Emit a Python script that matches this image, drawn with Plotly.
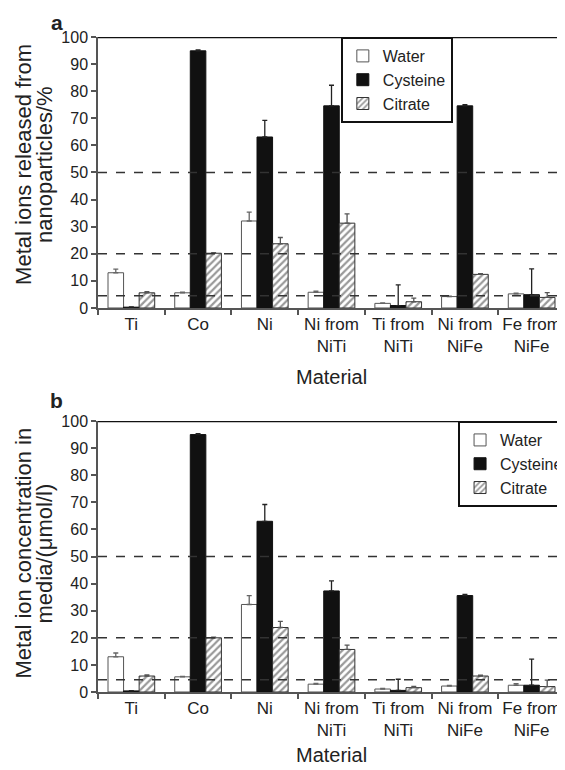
import plotly.graph_objects as go

categories = ["Ti", "Co", "Ni", "Ni from<br>NiTi", "Ti from<br>NiTi", "Ni from<br>NiFe", "Fe from<br>NiFe"]
series_names = ["Water", "Cysteine", "Citrate"]

# Panel a: metal ions released from nanoparticles (%)
a_water = [13.0, 5.6, 32.1, 5.8, 1.7, 4.2, 5.2]
a_water_err = [1.3, 0.2, 3.3, 0.4, 0.2, 0.2, 0.3]
a_cys = [0.3, 94.9, 63.1, 74.6, 0.9, 74.6, 4.9]
a_cys_err = [0.1, 0.3, 6.1, 7.6, 7.6, 0.4, 9.5]
a_cit = [5.6, 20.2, 23.7, 31.3, 2.3, 12.4, 3.9]
a_cit_err = [0.4, 0.2, 2.3, 3.4, 1.3, 0.3, 1.8]

# Panel b: metal ion concentration in media (umol/l)
b_water = [13.0, 5.6, 32.3, 2.9, 1.1, 2.2, 2.5]
b_water_err = [1.4, 0.2, 3.3, 0.3, 0.2, 0.2, 0.6]
b_cys = [0.4, 95.0, 63.0, 37.3, 0.6, 35.6, 2.5]
b_cys_err = [0.1, 0.3, 6.2, 3.7, 4.1, 0.4, 9.6]
b_cit = [5.9, 20.0, 23.8, 15.7, 1.6, 5.9, 2.0]
b_cit_err = [0.4, 0.2, 2.3, 1.6, 0.5, 0.3, 2.4]

ref_lines = [50, 20, 4.5]
y_ticks = list(range(0, 101, 10))

FONT = "Liberation Sans, Arial, sans-serif"

fig = go.Figure()

def add_panel(xa, ya, water, werr, cys, cerr, cit, iterr, legend):
    styles = [
        dict(color="white", line=dict(color="#555555", width=1)),
        dict(color="#111111", line=dict(color="#111111", width=1)),
        dict(color="white", line=dict(color="#333333", width=1),
             pattern=dict(shape="/", fgcolor="#333333", bgcolor="white", size=5, solidity=0.45)),
    ]
    errc = ["#666666", "#222222", "#555555"]
    for name, vals, errs, st, ec in zip(series_names, [water, cys, cit], [werr, cerr, iterr], styles, errc):
        fig.add_trace(go.Bar(
            x=categories, y=vals, name=name, marker=st,
            xaxis=xa, yaxis=ya, legend=legend, showlegend=True,
            error_y=dict(type="data", array=errs, arrayminus=[0] * len(errs), symmetric=False,
                         color=ec, thickness=1.3, width=2.5),
        ))

add_panel("x", "y", a_water, a_water_err, a_cys, a_cys_err, a_cit, a_cit_err, "legend")
add_panel("x2", "y2", b_water, b_water_err, b_cys, b_cys_err, b_cit, b_cit_err, "legend2")

top_dom = [0.5863, 1.0]
bot_dom = [0.0, 0.4137]

xcommon = dict(showline=True, linecolor="#555555", linewidth=1.5, ticks="outside", ticklen=5,
               tickcolor="#555555", tickwidth=1.5, tickson="boundaries", tickangle=0,
               automargin=False,
               tickfont=dict(size=17, color="#222222", family=FONT), showgrid=False)
ycommon = dict(range=[0, 100], tickvals=y_ticks, showline=True, linecolor="#555555", linewidth=1.5,
               ticks="outside", ticklen=5, tickcolor="#555555", tickwidth=1.5, automargin=False,
               tickfont=dict(size=16, color="#222222", family=FONT), showgrid=False, zeroline=False)

legend_common = dict(xanchor="left", yanchor="top", bgcolor="white",
                     bordercolor="#111111", borderwidth=2,
                     font=dict(size=16, family=FONT, color="#222222"),
                     tracegroupgap=0, itemwidth=30)

fig.update_layout(
    width=565, height=770,
    margin=dict(l=90, r=8, t=29, b=86, autoexpand=False),
    plot_bgcolor="white", paper_bgcolor="white",
    barmode="group", bargap=0.3, bargroupgap=0.0,
    font=dict(family=FONT, color="#222222"),
    xaxis=dict(domain=[0, 1], anchor="y", **xcommon),
    yaxis=dict(domain=top_dom, anchor="x", **ycommon),
    xaxis2=dict(domain=[0, 1], anchor="y2", **xcommon),
    yaxis2=dict(domain=bot_dom, anchor="x2", **ycommon),
    legend=dict(x=0.52, y=1.0, **legend_common),
    legend2=dict(x=0.771, y=0.4137, **legend_common),
)

shapes = []
for xr, yr in [("x domain", "y"), ("x2 domain", "y2")]:
    for v in ref_lines:
        shapes.append(dict(type="line", xref=xr, yref=yr, x0=0, x1=1, y0=v, y1=v,
                           line=dict(color="#333333", width=1.5, dash="dash"), layer="above"))
    shapes.append(dict(type="line", xref=xr, yref=yr, x0=0, x1=1, y0=100, y1=100,
                       line=dict(color="#111111", width=2.5), layer="above"))
fig.update_layout(shapes=shapes)

def txt(text, x, y, size, angle=0, yanchor="middle"):
    return dict(text=text, x=x, y=y, xref="paper", yref="paper", showarrow=False,
                xanchor="center", yanchor=yanchor, textangle=angle,
                font=dict(size=size, color="#222222", family=FONT))

top_c = 0.5863 + (1.0 - 0.5863) / 2 + 0.012
bot_c = 0.4137 / 2 + 0.005
ann = [
    txt("<b>a</b>", -0.088, 1.0435, 21, yanchor="top"),
    txt("<b>b</b>", -0.088, 0.4458, 21),
    txt("Metal ions released from", -0.160, top_c, 22, -90),
    txt("nanoparticles/%", -0.115, top_c, 22, -90),
    txt("Metal ion concentration in", -0.160, bot_c, 22, -90),
    txt("media/(\u03bcmol/l)", -0.115, bot_c, 22, -90),
    txt("Material", 0.5, 0.481, 20),
    txt("Material", 0.5, -0.0962, 20),
]
fig.update_layout(annotations=ann)

fig.write_html("out.html")
